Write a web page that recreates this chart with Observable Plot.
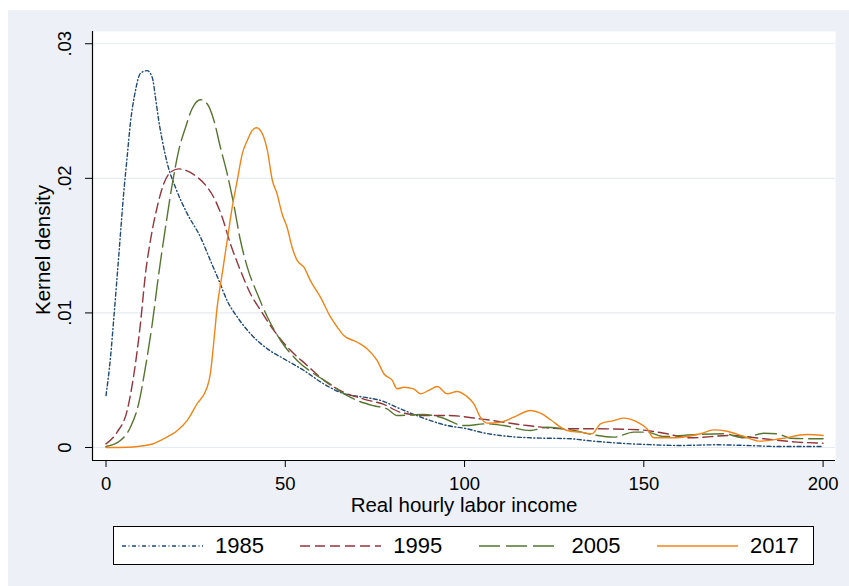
<!DOCTYPE html>
<html>
<head>
<meta charset="utf-8">
<script src="https://cdn.jsdelivr.net/npm/d3@7"></script>
<script src="https://cdn.jsdelivr.net/npm/@observablehq/plot@0.6"></script>
<style>
  html, body { margin: 0; padding: 0; background: #ffffff; }
  #page { position: relative; width: 849px; height: 586px; overflow: hidden; font-family: "Liberation Sans", Arial, sans-serif; }
  #bg { position: absolute; left: 8px; top: 10px; width: 841px; height: 576px; background: #edf1f7; }
  #chart { position: absolute; left: 0; top: 0; }
  #legend { position: absolute; left: 113px; top: 526px; width: 699px; height: 37px; background: #ffffff; border: 1px solid #000; }
  .item { position: absolute; top: 0; height: 37px; display: flex; align-items: center; }
  .item span { font-size: 22px; color: #000; margin-left: 12px; line-height: 1; }
</style>
</head>
<body>
<div id="page">
  <div id="bg"></div>
  <div id="chart"></div>
  <div id="legend"></div>
</div>
<script>
// ---- data ----
const years = ["1985", "1995", "2005", "2017"];
const colors = ["#1f4a76", "#93353c", "#56762f", "#ef8418"];
const dashes = ["4,2.5,1,2.5", "10,5", "21,6", null];

const x1985 = [0, 1.25, 2.2, 3.6, 5, 5.9, 6.8, 8.2, 9.6, 11.5, 12.9, 13.8, 14.7, 15.7, 17.1, 19.4, 22.6, 26.4, 29.1, 31.5, 33.8, 36.6, 40.3, 45, 49.6, 55.2, 60.7, 66.3, 71.9, 76.6, 82.1, 90.5, 95.2, 100.7, 104.4, 110, 118.4, 129.6, 134.2, 141.6, 150.9, 160.2, 169.7, 178.8, 188.1, 200];
const y1985 = [.00386, .0067, .0097, .0144, .0191, .0216, .0241, .0265, .0278, .0280, .0275, .0260, .0243, .0228, .0211, .0193, .0174, .0156, .0139, .0124, .0109, .0097, .00845, .00733, .00659, .00572, .00473, .0040, .00374, .0035, .00287, .0020, .00163, .00139, .00114, .00089, .00072, .00065, .00052, .00035, .00022, .00015, .0002, .00015, .00007, .00007];

const x1995 = [0, 3.1, 5.9, 7.8, 9.6, 11, 12.4, 14.3, 16.1, 18, 20.3, 22.6, 25.4, 28.2, 30.5, 32.4, 34.7, 37.5, 40.3, 43.1, 46.8, 51.5, 56.1, 60.7, 66.3, 71.9, 77.5, 82.1, 88.6, 95.2, 104.4, 117.5, 127.7, 137, 149.1, 155.6, 163, 174.2, 183.5, 192.8, 200];
const y1995 = [.00027, .00114, .00275, .00548, .0092, .0129, .0154, .0179, .0196, .02045, .0207, .02055, .0201, .01935, .01835, .0171, .01513, .01315, .01142, .0102, .0087, .0072, .0061, .0050, .0041, .0036, .0032, .00262, .00238, .00238, .00213, .00163, .00139, .00139, .00131, .00106, .00072, .00089, .00065, .0004, .00032];

const x2005 = [0, 4, 6.8, 9.1, 11, 12.9, 14.7, 16.6, 18.5, 20.3, 22.2, 24, 26.4, 28.2, 30.1, 31.9, 33.8, 35.6, 37.5, 39.4, 42.2, 45, 48.7, 53.3, 58, 61.7, 66.3, 70.1, 74.7, 78.4, 81.2, 88.6, 93.3, 99.8, 106.3, 110.9, 118.4, 123, 130.5, 136, 141.6, 147.2, 150.9, 155.6, 164.9, 172.3, 177.9, 183.5, 187.2, 190.9, 197.4, 200];
const y2005 = [.00007, .00052, .0015, .00325, .00597, .0092, .0129, .01637, .0196, .0221, .0238, .02517, .02584, .02554, .0243, .0223, .02034, .0181, .01538, .0134, .01142, .0097, .00795, .00647, .00548, .00486, .0040, .00349, .0031, .00287, .00238, .00245, .00225, .00163, .00176, .00163, .00126, .00151, .00126, .00094, .00077, .00114, .00114, .00082, .00097, .00102, .00072, .00106, .00102, .00069, .00065, .00065];

const x2017 = [0, 5.9, 12.4, 16.1, 19.9, 22.6, 25.4, 28.2, 29.1, 30.1, 31, 32.4, 33.8, 35.2, 36.6, 38, 39.4, 40.8, 42, 43.6, 45, 46.4, 47.7, 49.1, 50.5, 51.9, 53.3, 55.2, 57, 59.8, 62.6, 64.5, 66.3, 70.1, 72.8, 75.6, 77.5, 79.8, 81.2, 83.1, 85.8, 87.7, 90, 92.4, 95.2, 97.9, 100.3, 102.6, 104.4, 106.3, 110, 113.7, 118.4, 121.2, 124, 128.6, 132.3, 135.6, 137.9, 141.6, 144.4, 148.2, 150.9, 152.8, 158.4, 162.1, 165.8, 169.5, 173.2, 177.9, 182.5, 188.1, 195.6, 200];
const y2017 = [0, .00002, .00022, .00065, .00126, .002, .00325, .00448, .00548, .00795, .01043, .0129, .01538, .01786, .01984, .02182, .02281, .02356, .02376, .02331, .02207, .01984, .01885, .01737, .01637, .01488, .0139, .0134, .0124, .01117, .0097, .00894, .00832, .00782, .00733, .00647, .00548, .0050, .00436, .00448, .00436, .00399, .00424, .00453, .00399, .00416, .00386, .00325, .00225, .00181, .00188, .00225, .00275, .00255, .00206, .00126, .00114, .00102, .00176, .002, .00218, .00188, .00139, .00072, .00072, .00082, .00102, .00131, .00121, .00082, .00047, .00065, .00097, .00089];

const xTicks = [0, 50, 100, 150, 200];
const yTicks = [0, 0.01, 0.02, 0.03];
const yTickLabels = ["0", ".01", ".02", ".03"];
const xTitle = "Real hourly labor income";
const yTitle = "Kernel density";

const xDomain = [-3.77, 203.46];
const yDomain = [-0.000966, 0.03091];

const seriesX = [x1985, x1995, x2005, x2017];
const seriesY = [y1985, y1995, y2005, y2017];

const lineMarks = years.map((yr, k) => {
  const rows = seriesX[k].map((xv, i) => ({x: xv, y: seriesY[k][i]}));
  return Plot.line(rows, {
    x: "x", y: "y", stroke: colors[k], strokeWidth: 1.4,
    strokeDasharray: dashes[k] || undefined, curve: "monotone-x"
  });
});

const chart = Plot.plot({
  width: 849, height: 520,
  marginLeft: 92, marginRight: 14, marginTop: 31, marginBottom: 60,
  x: {domain: xDomain},
  y: {domain: yDomain},
  style: {background: "transparent", fontFamily: "'Liberation Sans', Arial, sans-serif", color: "black"},
  marks: [
    Plot.frame({fill: "white", stroke: "none"}),
    Plot.gridY(yTicks, {stroke: "#e5ebf2", strokeOpacity: 1, strokeWidth: 1.2}),
    ...lineMarks,
    Plot.ruleY([yDomain[0]], {stroke: "black", strokeWidth: 1.2}),
    Plot.ruleX([xDomain[0]], {stroke: "black", strokeWidth: 1.2}),
    Plot.axisX(xTicks, {tickSize: 7, tickPadding: 9, fontSize: 18.5, label: null, stroke: "black", fill: "black"}),
    Plot.axisY(yTicks, {
      tickFormat: d => yTickLabels[yTicks.indexOf(d)],
      tickRotate: -90, textAnchor: "middle", lineAnchor: "middle",
      tickSize: 7, tickPadding: 20, fontSize: 18.5, label: null, stroke: "black", fill: "black"
    }),
    Plot.text([xTitle], {text: d => d, frameAnchor: "bottom", dy: 45, fontSize: 20.5, textAnchor: "middle", lineAnchor: "middle", fill: "black"}),
    Plot.text([yTitle], {text: d => d, frameAnchor: "left", rotate: -90, dx: -49, dy: 4, fontSize: 20.5, textAnchor: "middle", lineAnchor: "middle", fill: "black"})
  ]
});
document.getElementById("chart").appendChild(chart);

// legend
const legend = document.getElementById("legend");
years.forEach((yr, k) => {
  const item = document.createElement("div");
  item.className = "item";
  item.style.left = (8 + k * 178.3) + "px";
  const ns = "http://www.w3.org/2000/svg";
  const svg = document.createElementNS(ns, "svg");
  svg.setAttribute("width", "81");
  svg.setAttribute("height", "6");
  const ln = document.createElementNS(ns, "line");
  ln.setAttribute("x1", "0"); ln.setAttribute("x2", "81");
  ln.setAttribute("y1", "3"); ln.setAttribute("y2", "3");
  ln.setAttribute("stroke", colors[k]);
  ln.setAttribute("stroke-width", "1.4");
  if (dashes[k]) ln.setAttribute("stroke-dasharray", dashes[k]);
  svg.appendChild(ln);
  const span = document.createElement("span");
  span.textContent = yr;
  item.appendChild(svg);
  item.appendChild(span);
  legend.appendChild(item);
});
</script>
</body>
</html>
